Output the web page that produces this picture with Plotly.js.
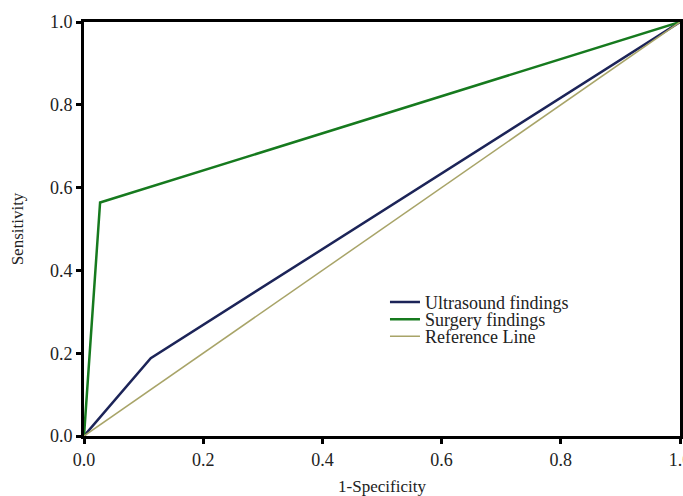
<!DOCTYPE html>
<html>
<head>
<meta charset="utf-8">
<script src="https://cdn.plot.ly/plotly-3.0.1.min.js"></script>
<style>html,body{margin:0;padding:0;background:#fff;overflow:hidden;}#chart{width:683px;height:496px;}</style>
</head>
<body>
<div id="chart"></div>
<script>
const seriesNames = ["Ultrasound findings", "Surgery findings", "Reference Line"];
const ultrasoundX = [0, 0.112, 1];
const ultrasoundY = [0, 0.188, 1];
const surgeryX = [0, 0.027, 1];
const surgeryY = [0, 0.564, 1];
const referenceX = [0, 1];
const referenceY = [0, 1];
const tickVals = [0, 0.2, 0.4, 0.6, 0.8, 1.0];
const tickText = ["0.0", "0.2", "0.4", "0.6", "0.8", "1.0"];

const FAMILY = "Liberation Serif";
function mkFont(size) { return {family: FAMILY, size: size, color: "#222"}; }

const traces = [
  {x: ultrasoundX, y: ultrasoundY, name: seriesNames[0], mode: "lines", legend: "legend", line: {color: "#1c2458", width: 2.5}},
  {x: surgeryX, y: surgeryY, name: seriesNames[1], mode: "lines", legend: "legend2", line: {color: "#167a1e", width: 2.5}},
  {x: referenceX, y: referenceY, name: seriesNames[2], mode: "lines", legend: "legend3", line: {color: "#a8a468", width: 1.5}}
];

function axis(titleText, standoff) {
  return {
    range: [0, 1], tickvals: tickVals, ticktext: tickText,
    showline: true, mirror: true, linecolor: "#000", linewidth: 3,
    ticks: "outside", ticklen: 5, tickwidth: 2.5, tickcolor: "#000",
    showgrid: false, zeroline: false, tickfont: mkFont(18),
    ticklabeloverflow: "allow",
    title: {text: titleText, font: mkFont(17), standoff: standoff}
  };
}

function leg(y) {
  return {x: 0.505, y: y, xanchor: "left", yanchor: "middle", bgcolor: "rgba(0,0,0,0)",
    font: mkFont(18), itemwidth: 30};
}

function makeLayout() {
  return {
    width: 683, height: 496,
    margin: {l: 84, r: 3, t: 22, b: 60},
    paper_bgcolor: "#fff", plot_bgcolor: "#fff",
    font: mkFont(17),
    showlegend: true,
    legend: leg(0.323),
    legend2: leg(0.281),
    legend3: leg(0.240),
    xaxis: axis("1-Specificity", 14),
    yaxis: axis("Sensitivity", 22)
  };
}

const gd = document.getElementById("chart");
Plotly.newPlot(gd, traces, makeLayout(), {displayModeBar: false}).then(function(){
  requestAnimationFrame(function(){
    Plotly.react(gd, traces, makeLayout(), {displayModeBar: false});
  });
});
</script>
</body>
</html>
